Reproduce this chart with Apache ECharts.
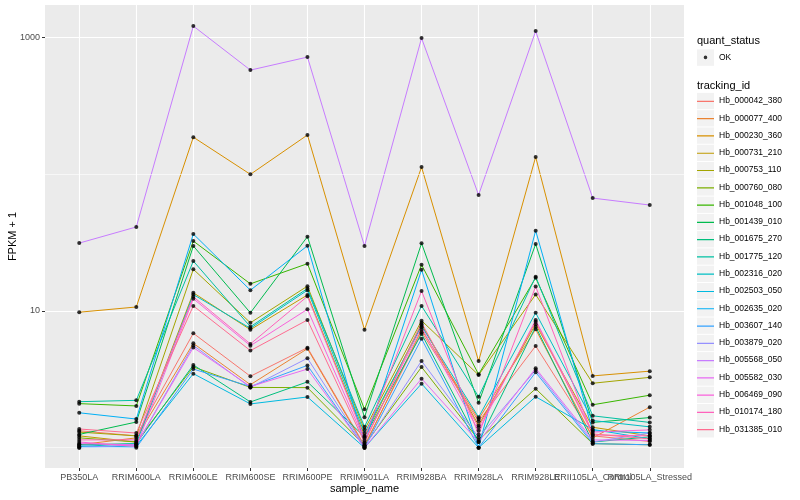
<!DOCTYPE html>
<html>
<head>
<meta charset="utf-8">
<script src="https://cdn.jsdelivr.net/npm/echarts@6/dist/echarts.min.js"></script>
<style>html,body{margin:0;padding:0;background:#fff}#c{width:800px;height:500px}</style>
</head>
<body>
<div id="c"></div>
<script>
// ---------- data ----------
const samples = ['PB350LA','RRIM600LA','RRIM600LE','RRIM600SE','RRIM600PE','RRIM901LA','RRIM928BA','RRIM928LA','RRIM928LE','RRII105LA_Control','RRII105LA_Stressed'];
const trackingIds = ['Hb_000042_380','Hb_000077_400','Hb_000230_360','Hb_000731_210','Hb_000753_110','Hb_000760_080','Hb_001048_100','Hb_001439_010','Hb_001675_270','Hb_001775_120','Hb_002316_020','Hb_002503_050','Hb_002635_020','Hb_003607_140','Hb_003879_020','Hb_005568_050','Hb_005582_030','Hb_006469_090','Hb_010174_180','Hb_031385_010'];
const quantStatus = ['OK'];
const yTickValues = [10, 1000];

// FPKM + 1 per gene, in sample order
const Hb_000042_380 = [1.33, 1.22, 6.87, 3.33, 5.39, 1.04, 7.0, 1.56, 5.55, 1.22, 1.11];
const Hb_000077_400 = [1.05, 1.18, 5.8, 2.89, 5.3, 1.02, 7.3, 1.62, 7.35, 1.18, 1.98];
const Hb_000230_360 = [9.8, 10.7, 187, 100, 194, 7.3, 113, 4.3, 134, 3.35, 3.63];
const Hb_000731_210 = [1.22, 1.10, 13.6, 7.3, 13.1, 1.22, 8.0, 1.46, 8.0, 1.41, 1.22];
const Hb_000753_110 = [1.30, 1.22, 20.2, 8.2, 15.2, 1.35, 8.5, 3.4, 13.2, 2.96, 3.27];
const Hb_000760_080 = [1.18, 1.10, 3.9, 2.76, 2.75, 1.04, 3.89, 1.14, 2.70, 1.07, 1.05];
const Hb_001048_100 = [2.10, 2.02, 32.5, 15.8, 22.2, 1.91, 21.8, 3.44, 17.5, 2.06, 2.42];
const Hb_001439_010 = [1.25, 1.54, 29.9, 9.7, 35.0, 1.67, 31.3, 2.13, 30.9, 1.53, 1.66];
const Hb_001675_270 = [1.05, 1.07, 4.03, 2.16, 3.03, 1.2, 6.8, 1.1, 7.67, 1.1, 1.2];
const Hb_001775_120 = [2.17, 2.22, 23.2, 7.67, 14.6, 1.42, 10.9, 2.36, 17.8, 1.71, 1.53];
const Hb_002316_020 = [1.02, 1.07, 13.2, 7.47, 14.2, 1.28, 7.77, 1.67, 9.7, 1.58, 1.42];
const Hb_002503_050 = [1.0, 1.03, 3.48, 2.09, 2.35, 1.0, 2.94, 1.0, 2.36, 1.36, 1.16];
const Hb_002635_020 = [1.80, 1.62, 36.6, 14.2, 30.0, 1.07, 20.0, 1.0, 38.7, 1.33, 1.28];
const Hb_003607_140 = [1.03, 1.0, 3.76, 2.80, 4.0, 1.0, 6.27, 1.0, 3.56, 1.07, 1.05];
const Hb_003879_020 = [1.0, 1.05, 5.6, 2.76, 4.51, 1.02, 4.31, 1.19, 3.7, 1.10, 1.28];
const Hb_005568_050 = [31.4, 41.2, 1216, 579, 721, 29.9, 993, 70.6, 1117, 67, 59.6];
const Hb_005582_030 = [1.07, 1.05, 5.4, 2.80, 3.76, 1.0, 3.2, 1.10, 3.81, 1.14, 1.13];
const Hb_006469_090 = [1.10, 1.02, 12.3, 5.57, 10.3, 1.13, 7.6, 1.33, 8.6, 1.30, 1.35];
const Hb_010174_180 = [1.14, 1.14, 12.7, 5.74, 12.8, 1.18, 14.0, 1.25, 15.1, 1.24, 1.22];
const Hb_031385_010 = [1.37, 1.28, 10.9, 5.13, 8.6, 1.09, 8.2, 1.41, 8.35, 1.26, 1.16];

const seriesValues = [Hb_000042_380, Hb_000077_400, Hb_000230_360, Hb_000731_210, Hb_000753_110, Hb_000760_080, Hb_001048_100, Hb_001439_010, Hb_001675_270, Hb_001775_120, Hb_002316_020, Hb_002503_050, Hb_002635_020, Hb_003607_140, Hb_003879_020, Hb_005568_050, Hb_005582_030, Hb_006469_090, Hb_010174_180, Hb_031385_010];

// ---------- styles ----------
const palette = ['#F8766D','#EA8331','#D89000','#C09B00','#A3A500','#7CAE00','#39B600','#00BB4E','#00BF7D','#00C1A3','#00BFC4','#00BAE0','#00B0F6','#35A2FF','#9590FF','#C77CFF','#E76BF3','#FA62DB','#FF62BC','#FF6C91'];
const FONT = 'Liberation Sans, Arial, sans-serif';
const GRID = {left: 45, right: 116, top: 5, bottom: 32};
const LEG_X = 697, KEY = 17, STEP = 17.28, LEG_TOP = 92.4, OK_TOP = 48.9;

const lineIcon = 'path://M0,0L0.01,0L0.01,0.01Z M0,8.4L17,8.4L17,9.6L0,9.6Z M16.99,17L17,17L17,16.99Z';
const dotIcon = 'path://M0,0L0.01,0L0.01,0.01Z M8.5,6.7A1.8,1.8,0,1,1,8.49,6.7Z M16.99,17L17,17L17,16.99Z';

const idx = samples.map((_, i) => i);
const evenIdx = idx.filter(i => i % 2 === 0);
const oddIdx = idx.filter(i => i % 2 === 1);

const lineSeries = trackingIds.map((name, k) => ({
  name: name,
  type: 'line',
  data: seriesValues[k].map((v, i) => [i, v]),
  showSymbol: false,
  symbol: 'none',
  lineStyle: {color: palette[k], width: 1},
  itemStyle: {color: palette[k]},
  z: 3,
  silent: true,
  animation: false
}));

const allPoints = [];
seriesValues.forEach(arr => arr.forEach((v, i) => allPoints.push([i, v])));

const series = [
  {
    name: 'minor',
    type: 'line',
    data: [],
    z: 1,
    silent: true,
    markLine: {
      silent: true,
      symbol: ['none', 'none'],
      label: {show: false},
      lineStyle: {color: '#ffffff', width: 0.6, type: 'solid'},
      data: [{yAxis: 1}, {yAxis: 100}],
      animation: false
    }
  },
  ...lineSeries,
  {
    name: quantStatus[0],
    type: 'scatter',
    data: allPoints,
    symbol: 'circle',
    symbolSize: 4,
    itemStyle: {color: '#000000'},
    z: 5,
    silent: true,
    animation: false
  }
];

// legend key backgrounds
const graphics = [];
graphics.push({type: 'rect', shape: {x: LEG_X, y: OK_TOP + 0.5, width: KEY, height: KEY - 0.6}, style: {fill: '#F2F2F2'}, z: 0});
trackingIds.forEach((_, i) => {
  graphics.push({type: 'rect', shape: {x: LEG_X, y: LEG_TOP + i * STEP + 0.5, width: KEY, height: STEP - 1}, style: {fill: '#F2F2F2'}, z: 0});
});

const labelFmt = v => samples[Math.round(v)] || '';
const axisLabelBase = {formatter: labelFmt, fontSize: 9, color: '#4D4D4D', margin: 5, fontFamily: FONT, hideOverlap: false, showMinLabel: true, showMaxLabel: true};

const option = {
  animation: false,
  backgroundColor: '#ffffff',
  textStyle: {fontFamily: FONT},
  title: [
    {text: 'quant_status', left: LEG_X, top: 35, padding: 0, textStyle: {fontSize: 11, fontWeight: 'normal', color: '#000', fontFamily: FONT}},
    {text: 'tracking_id', left: LEG_X, top: 80, padding: 0, textStyle: {fontSize: 11, fontWeight: 'normal', color: '#000', fontFamily: FONT}}
  ],
  legend: [
    {
      data: quantStatus,
      orient: 'vertical', left: LEG_X, top: OK_TOP, padding: 0,
      icon: dotIcon, itemWidth: KEY, itemHeight: KEY, itemGap: 0,
      textStyle: {fontSize: 8.5, color: '#000', fontFamily: FONT},
      selectedMode: false
    },
    {
      data: trackingIds.map((n, k) => ({name: n, itemStyle: {color: palette[k]}, lineStyle: {color: palette[k]}})),
      orient: 'vertical', left: LEG_X, top: LEG_TOP, padding: 0,
      icon: lineIcon, itemWidth: KEY, itemHeight: 17, itemGap: 0.28,
      textStyle: {fontSize: 8.5, color: '#000', fontFamily: FONT},
      selectedMode: false
    }
  ],
  graphic: {elements: graphics},
  grid: Object.assign({show: true, backgroundColor: '#EBEBEB', borderWidth: 0, containLabel: false, outerBoundsMode: 'none'}, GRID),
  xAxis: [
    {
      type: 'value', position: 'bottom',
      min: -0.6, max: 10.6,
      name: 'sample_name', nameLocation: 'middle', nameGap: 15, nameMoveOverlap: false,
      nameTextStyle: {fontSize: 11, color: '#000', fontFamily: FONT},
      axisLine: {show: false, onZero: false},
      axisTick: {show: true, customValues: idx, length: 3, lineStyle: {color: '#333333', width: 1}},
      axisLabel: Object.assign({customValues: evenIdx}, axisLabelBase),
      splitLine: {show: true, lineStyle: {color: '#ffffff', width: 1.1}}
    },
    {
      type: 'value', position: 'bottom', offset: 0,
      min: -0.6, max: 10.6,
      axisLine: {show: false, onZero: false},
      axisTick: {show: false},
      axisLabel: Object.assign({customValues: oddIdx}, axisLabelBase),
      splitLine: {show: false}
    }
  ],
  yAxis: {
    type: 'log', logBase: 10,
    min: 0.71, max: 1734,
    name: 'FPKM + 1', nameLocation: 'middle', nameGap: 27, nameRotate: 90, nameMoveOverlap: false,
    nameTextStyle: {fontSize: 11, color: '#000', fontFamily: FONT},
    axisLine: {show: false, onZero: false},
    axisTick: {show: true, customValues: yTickValues, length: 3, lineStyle: {color: '#333333', width: 1}},
    axisLabel: {
      customValues: yTickValues,
      formatter: v => {
        const r = Math.log10(v);
        const ri = Math.round(r);
        return (Math.abs(r - ri) < 1e-6 && (ri === 1 || ri === 3)) ? String(Math.pow(10, ri)) : '';
      },
      fontSize: 9, color: '#4D4D4D', margin: 5, fontFamily: FONT
    },
    splitLine: {show: true, lineStyle: {color: '#ffffff', width: 1.1}}
  },
  series: series
};

const chart = echarts.init(document.getElementById('c'), null, {renderer: 'canvas'});
chart.setOption(option);
</script>
</body>
</html>
